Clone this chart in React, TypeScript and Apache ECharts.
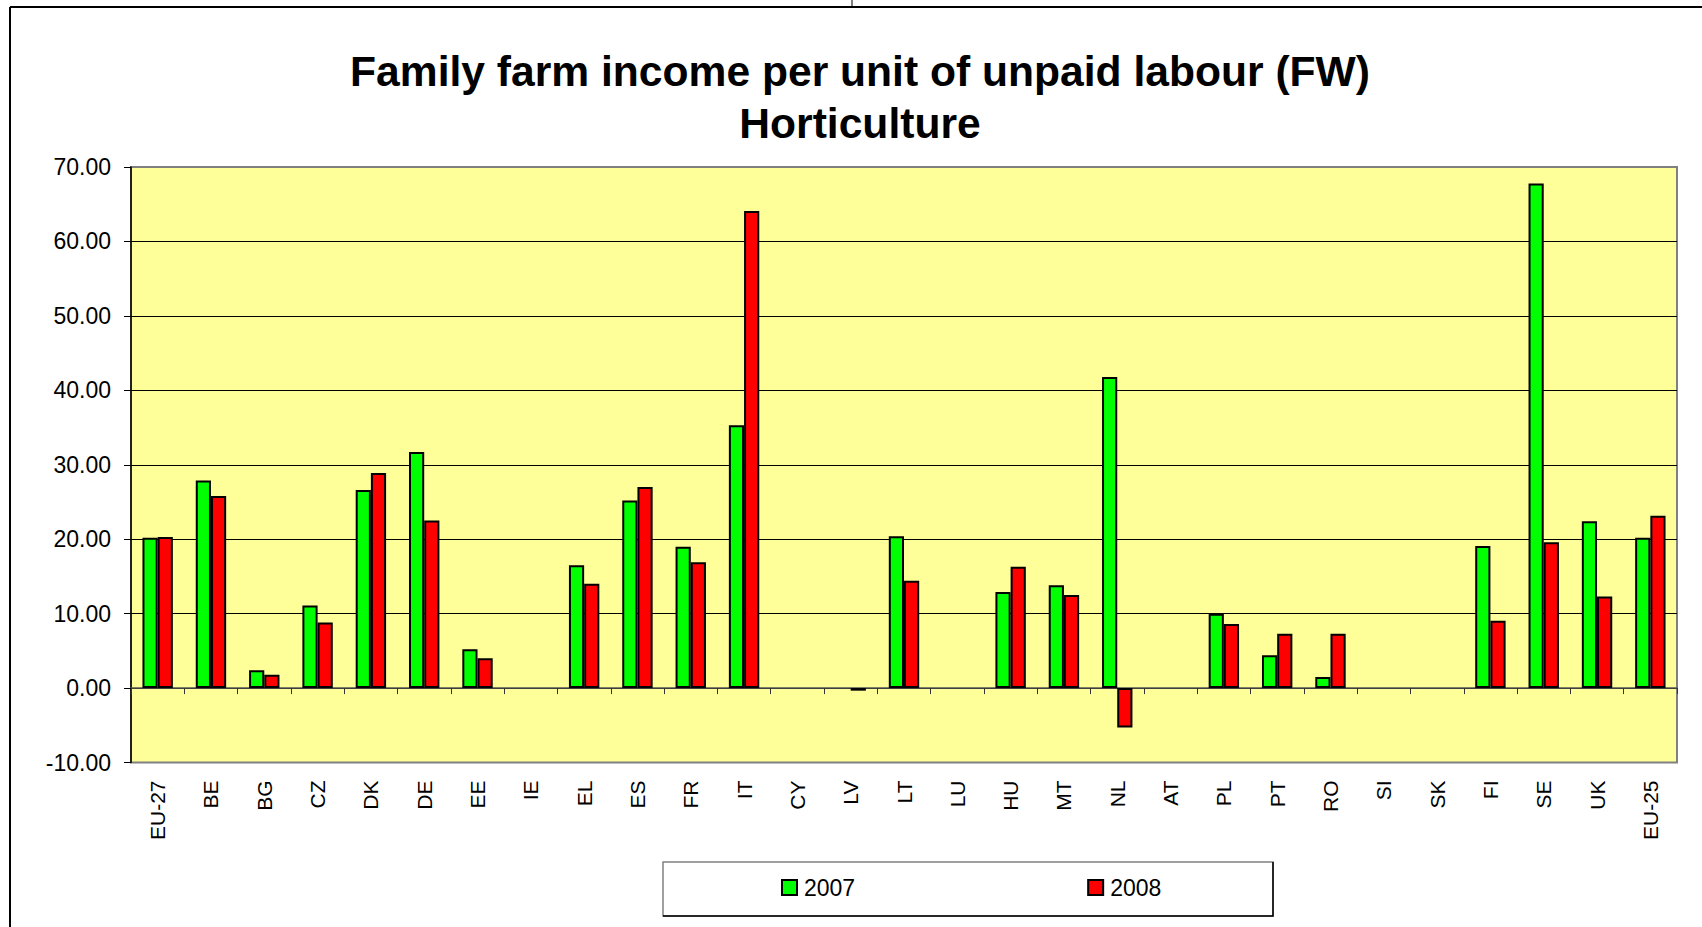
import React, { useEffect, useRef } from "react";
import * as echarts from "echarts";

const categories = [
  "EU-27", "BE", "BG", "CZ", "DK", "DE", "EE", "IE", "EL", "ES", "FR", "IT", "CY", "LV",
  "LT", "LU", "HU", "MT", "NL", "AT", "PL", "PT", "RO", "SI", "SK", "FI", "SE", "UK", "EU-25",
];

const values2007: (number | null)[] = [
  20.2, 27.9, 2.4, 11.1, 26.6, 31.7, 5.2, null, 16.5, 25.2, 19.0, 35.3, null, null,
  20.4, null, 12.9, 13.8, 41.8, null, 10.0, 4.4, 1.5, null, null, 19.1, 67.8, 22.4, 20.2,
];

const values2008: (number | null)[] = [
  20.3, 25.8, 1.8, 8.8, 28.9, 22.5, 4.0, null, 14.0, 27.0, 16.9, 64.1, null, -0.35,
  14.4, null, 16.3, 12.5, -5.3, null, 8.6, 7.3, 7.3, null, null, 9.05, 19.6, 12.3, 23.15,
];

const seriesNames = ["2007", "2008"];
const titleLines = ["Family farm income per unit of unpaid labour (FW)", "Horticulture"];

const FONT = "'Liberation Sans', Arial, Helvetica, sans-serif";

export default function App() {
  const ref = useRef<HTMLDivElement>(null);

  useEffect(() => {
    if (!ref.current) return;
    const chart = echarts.init(ref.current, null, { renderer: "svg" });
    chart.setOption({
      animation: false,
      backgroundColor: "#ffffff",
      textStyle: { fontFamily: FONT },
      grid: {
        left: 131,
        top: 167,
        right: 25,
        bottom: 164.5,
        show: true,
        backgroundColor: "#FFFF99",
        borderColor: "#808080",
        borderWidth: 2,
      },
      legend: {
        data: seriesNames,
        left: 781,
        top: 876,
        padding: 0,
        itemWidth: 15,
        itemHeight: 15,
        itemGap: 232,
        icon: "rect",
        itemStyle: { borderColor: "#000", borderWidth: 2 },
        textStyle: { fontSize: 23, color: "#000", fontFamily: FONT, padding: [0, 0, 0, 2] },
      },
      xAxis: [
        {
          type: "category",
          data: categories,
          position: "bottom",
          axisLine: { show: true, onZero: true, lineStyle: { color: "#555", width: 1.5 } },
          axisTick: { show: true, length: 6, lineStyle: { color: "#333", width: 1 } },
          axisLabel: { show: false },
          splitLine: { show: false },
        },
        {
          type: "category",
          data: categories,
          position: "bottom",
          axisLine: { show: false, onZero: false },
          axisTick: { show: false },
          axisLabel: {
            show: true,
            rotate: 90,
            margin: 18,
            fontSize: 21,
            color: "#000",
            fontFamily: FONT,
            interval: 0,
          },
          splitLine: { show: false },
        },
      ],
      yAxis: {
        type: "value",
        min: -10,
        max: 70,
        interval: 10,
        axisLine: { show: true, onZero: false, lineStyle: { color: "#000", width: 1.5 } },
        axisTick: { show: true, length: 7, lineStyle: { color: "#000", width: 1 } },
        axisLabel: {
          fontSize: 23,
          color: "#000",
          fontFamily: FONT,
          margin: 20,
          formatter: (v: number) => v.toFixed(2),
        },
        splitLine: {
          show: true,
          showMinLine: false,
          showMaxLine: false,
          lineStyle: { color: "#000", width: 1 },
        },
      },
      series: [
        {
          name: seriesNames[0],
          type: "bar",
          xAxisIndex: 0,
          data: values2007,
          barGap: "0%",
          barCategoryGap: "43%",
          itemStyle: { color: "#00FF00", borderColor: "#000", borderWidth: 2 },
        },
        {
          name: seriesNames[1],
          type: "bar",
          xAxisIndex: 0,
          data: values2008,
          barGap: "0%",
          barCategoryGap: "43%",
          itemStyle: { color: "#FF0000", borderColor: "#000", borderWidth: 2 },
        },
      ],
      graphic: [
        {
          type: "line",
          shape: { x1: 10, y1: 7, x2: 1702, y2: 7 },
          style: { stroke: "#000", lineWidth: 2 },
          silent: true,
        },
        {
          type: "line",
          shape: { x1: 10, y1: 7, x2: 10, y2: 927 },
          style: { stroke: "#000", lineWidth: 2 },
          silent: true,
        },
        {
          type: "line",
          shape: { x1: 852, y1: 0, x2: 852, y2: 6 },
          style: { stroke: "#000", lineWidth: 1 },
          silent: true,
        },
        {
          type: "text",
          x: 860,
          y: 71,
          style: {
            text: titleLines[0],
            font: `bold 42.6px ${FONT}`,
            fill: "#000",
            align: "center",
            verticalAlign: "middle",
          },
          silent: true,
        },
        {
          type: "text",
          x: 860,
          y: 123,
          style: {
            text: titleLines[1],
            font: `bold 42.6px ${FONT}`,
            fill: "#000",
            align: "center",
            verticalAlign: "middle",
          },
          silent: true,
        },
        {
          type: "rect",
          shape: { x: 663, y: 862, width: 610, height: 54 },
          style: { fill: "none", stroke: "#808080", lineWidth: 1.5 },
          silent: true,
          z: -1,
        },
        {
          type: "polyline",
          shape: { points: [[663, 916], [1273, 916], [1273, 862]] },
          style: { fill: "none", stroke: "#000", lineWidth: 1.5 },
          silent: true,
        },
      ],
    });
    return () => chart.dispose();
  }, []);

  return (
    <div
      ref={ref}
      style={{ position: "absolute", left: 0, top: 0, width: 1702, height: 927 }}
    />
  );
}
